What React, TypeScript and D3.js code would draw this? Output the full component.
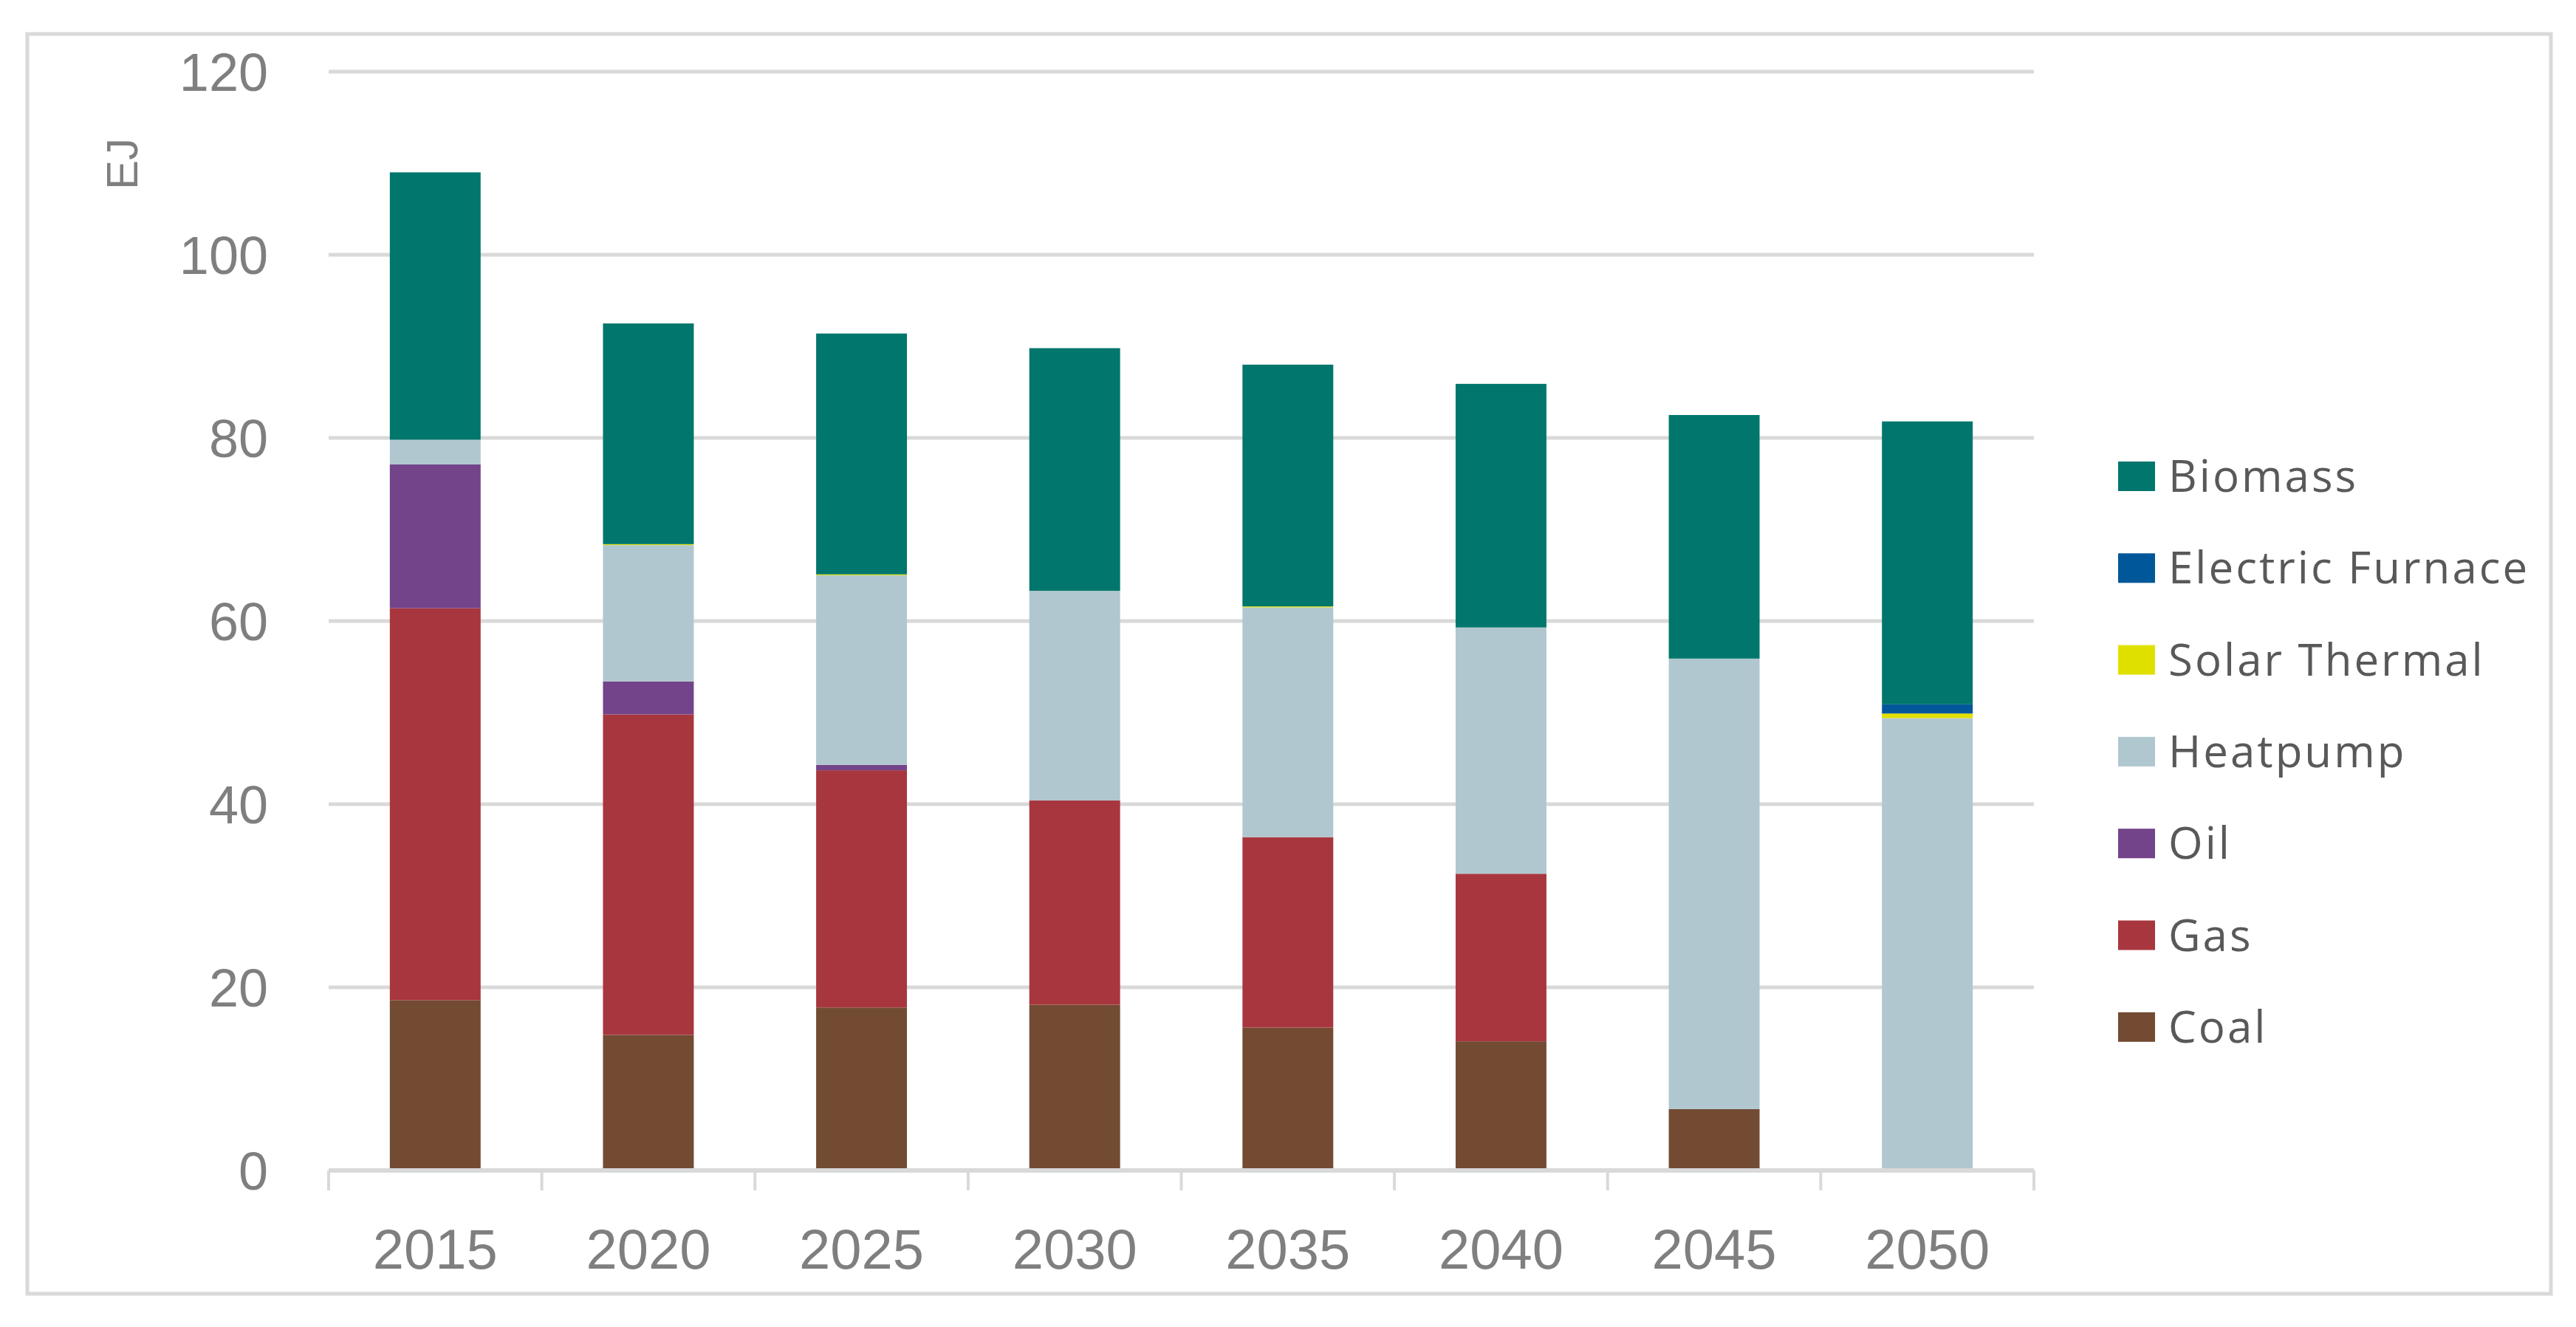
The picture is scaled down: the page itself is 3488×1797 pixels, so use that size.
import * as d3 from "d3";
import React from "react";

const WIDTH = 3488;
const HEIGHT = 1797;

const years = ["2015", "2020", "2025", "2030", "2035", "2040", "2045", "2050"];

// stacked from the bottom up
const coal = [18.6, 14.8, 17.8, 18.1, 15.6, 14.1, 6.7, 0];
const gas = [42.8, 35.0, 25.9, 22.3, 20.8, 18.3, 0, 0];
const oil = [15.7, 3.6, 0.6, 0, 0, 0, 0, 0];
const heatpump = [2.7, 14.9, 20.7, 22.9, 25.1, 26.9, 49.2, 49.4];
const solarThermal = [0, 0.1, 0.1, 0, 0.1, 0, 0, 0.5];
const electricFurnace = [0, 0, 0, 0, 0, 0, 0, 1.0];
const biomass = [29.2, 24.1, 26.3, 26.5, 26.4, 26.6, 26.6, 30.9];

const yTicks = [0, 20, 40, 60, 80, 100, 120];

const series = [
  { name: "Coal", values: coal, color: "#734b33" },
  { name: "Gas", values: gas, color: "#a8363e" },
  { name: "Oil", values: oil, color: "#73448a" },
  { name: "Heatpump", values: heatpump, color: "#b1c7cf" },
  { name: "Solar Thermal", values: solarThermal, color: "#e0e000" },
  { name: "Electric Furnace", values: electricFurnace, color: "#00589a" },
  { name: "Biomass", values: biomass, color: "#00766c" },
];

const PLOT = { left: 445, right: 2754, top: 97, bottom: 1585 };

export default function App() {
  const x = d3
    .scaleBand<string>()
    .domain(years)
    .range([PLOT.left, PLOT.right])
    .paddingInner(0.574)
    .paddingOuter(0.287);

  const y = d3.scaleLinear().domain([0, 120]).range([PLOT.bottom, PLOT.top]);

  const rows = years.map((yr, i) => {
    const row: Record<string, number | string> = { year: yr };
    series.forEach((s) => (row[s.name] = s.values[i]));
    return row;
  });

  const stack = d3.stack<Record<string, number | string>>().keys(series.map((s) => s.name));
  const layers = stack(rows as any);

  const step = (PLOT.right - PLOT.left) / years.length;
  const legendItems = [...series].reverse();

  return (
    <svg
      width={WIDTH}
      height={HEIGHT}
      style={{ position: "absolute", left: 0, top: 0, display: "block", background: "#fff" }}
    >
      <rect x={0} y={0} width={WIDTH} height={HEIGHT} fill="#fff" />
      {/* chart border */}
      <rect x={37} y={46} width={3417} height={1706} fill="none" stroke="#d9d9d9" strokeWidth={5} />

      {/* gridlines */}
      {yTicks.slice(1).map((t) => (
        <line key={t} x1={PLOT.left} x2={PLOT.right} y1={y(t)} y2={y(t)} stroke="#d9d9d9" strokeWidth={5} />
      ))}

      {/* y labels */}
      {yTicks.map((t) => (
        <text
          key={t}
          x={363}
          y={y(t)}
          dy="0.36em"
          textAnchor="end"
          fontFamily="Liberation Sans, Arial, sans-serif"
          fontSize={72}
          fill="#7f7f7f"
        >
          {t}
        </text>
      ))}

      <text
        transform={`translate(${186},${222}) rotate(-90)`}
        textAnchor="middle"
        fontFamily="Liberation Sans, Arial, sans-serif"
        fontSize={60}
        fill="#7f7f7f"
      >
        EJ
      </text>

      {/* bars */}
      {layers.map((layer, li) => (
        <g key={series[li].name} fill={series[li].color}>
          {layer.map((d, i) =>
            d[1] - d[0] > 0 ? (
              <rect
                key={years[i]}
                x={x(years[i])}
                width={x.bandwidth()}
                y={y(d[1])}
                height={y(d[0]) - y(d[1])}
              />
            ) : null
          )}
        </g>
      ))}

      {/* x axis */}
      <line x1={PLOT.left} x2={PLOT.right} y1={PLOT.bottom} y2={PLOT.bottom} stroke="#d9d9d9" strokeWidth={6} />
      {d3.range(years.length + 1).map((i) => (
        <line
          key={i}
          x1={PLOT.left + i * step}
          x2={PLOT.left + i * step}
          y1={PLOT.bottom}
          y2={PLOT.bottom + 27}
          stroke="#d9d9d9"
          strokeWidth={4}
        />
      ))}
      {years.map((yr) => (
        <text
          key={yr}
          x={(x(yr) ?? 0) + x.bandwidth() / 2}
          y={1718}
          textAnchor="middle"
          fontFamily="Liberation Sans, Arial, sans-serif"
          fontSize={76}
          fill="#7f7f7f"
        >
          {yr}
        </text>
      ))}

      {/* legend */}
      {legendItems.map((s, i) => (
        <g key={s.name} transform={`translate(2868, ${625 + i * 124.3})`}>
          <rect width={50} height={40} fill={s.color} />
          <text
            x={68}
            y={41}
            fontFamily="Open Sans, sans-serif"
            fontSize={60}
            letterSpacing={3}
            fill="#595959"
          >
            {s.name}
          </text>
        </g>
      ))}
    </svg>
  );
}
